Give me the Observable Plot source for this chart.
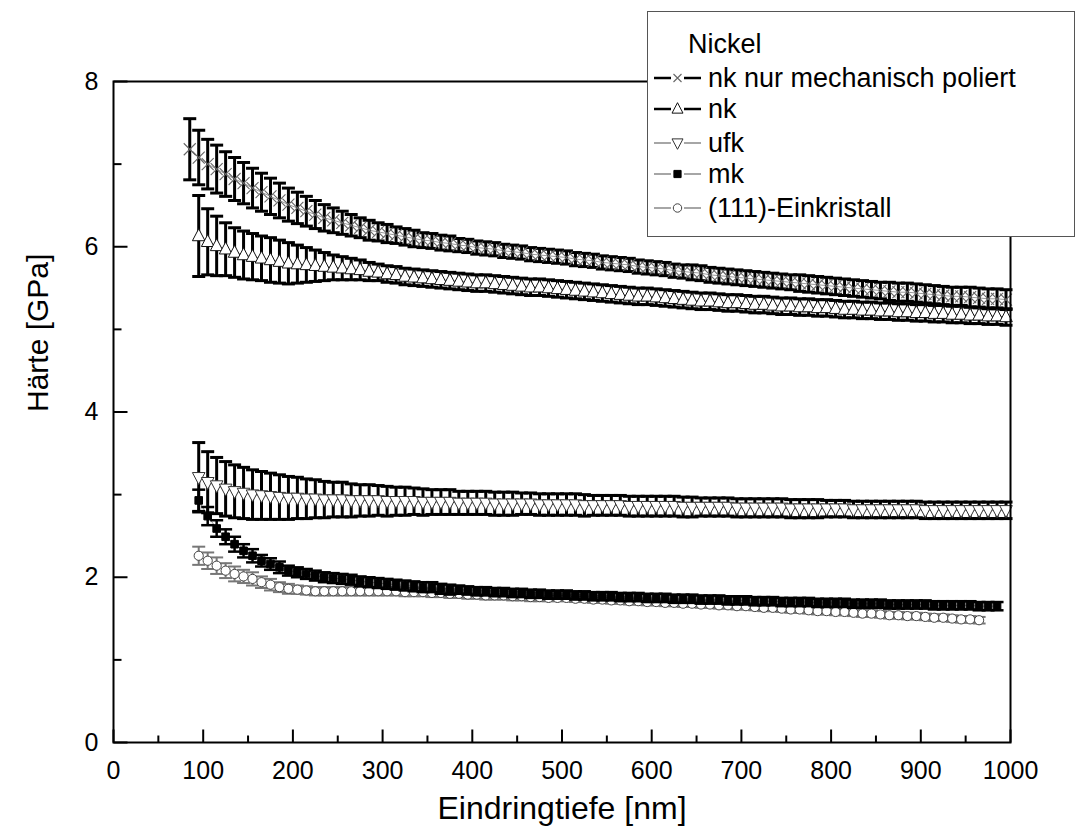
<!DOCTYPE html>
<html>
<head>
<meta charset="utf-8">
<script src="https://cdn.jsdelivr.net/npm/d3@7"></script>
<script src="https://cdn.jsdelivr.net/npm/@observablehq/plot@0.6"></script>
<style>
  html, body { margin: 0; padding: 0; background: #fff; }
  #wrap { position: relative; width: 1075px; height: 836px; overflow: hidden; font-family: "Liberation Sans", Arial, sans-serif; }
  #legend { position: absolute; left: 647px; top: 11px; width: 428px; height: 226px; box-sizing: border-box; border: 1.5px solid #555; background: #fff; }
  #legend svg { position: absolute; left: 0; top: 0; }
</style>
</head>
<body>
<div id="wrap"><div id="chart"></div><div id="legend"></div></div>
<script>
// ---------------- data ----------------
const depth = [
  85,95,105,115,125,135,145,155,165,175,
  185,195,205,215,225,235,245,255,265,275,
  285,295,305,315,325,335,345,355,365,375,
  385,395,405,415,425,435,445,455,465,475,
  485,495,505,515,525,535,545,555,565,575,
  585,595,605,615,625,635,645,655,665,675,
  685,695,705,715,725,735,745,755,765,775,
  785,795,805,815,825,835,845,855,865,875,
  885,895,905,915,925,935,945,955,965,975,
  985,995];

// nk nur mechanisch poliert
const mechHardness = [
  7.18,7.08,7.00,6.94,6.88,6.82,6.77,6.71,6.66,6.61,
  6.56,6.51,6.47,6.43,6.39,6.35,6.32,6.29,6.26,6.23,
  6.20,6.18,6.16,6.14,6.12,6.10,6.08,6.07,6.05,6.04,
  6.02,6.01,5.99,5.98,5.97,5.95,5.94,5.93,5.91,5.90,
  5.89,5.88,5.87,5.85,5.84,5.83,5.81,5.80,5.79,5.78,
  5.76,5.75,5.74,5.73,5.71,5.70,5.69,5.68,5.66,5.65,
  5.64,5.63,5.62,5.61,5.60,5.59,5.58,5.57,5.56,5.55,
  5.54,5.53,5.52,5.51,5.50,5.49,5.48,5.47,5.46,5.45,
  5.45,5.44,5.43,5.42,5.41,5.40,5.40,5.39,5.38,5.37,
  5.37,5.36];
const mechError = [
  0.37,0.33,0.30,0.29,0.27,0.26,0.25,0.24,0.23,0.22,
  0.21,0.20,0.19,0.18,0.17,0.16,0.15,0.14,0.13,0.12,
  0.12,0.11,0.11,0.10,0.10,0.10,0.09,0.09,0.09,0.09,
  0.08,0.08,0.08,0.08,0.08,0.08,0.08,0.08,0.08,0.08,
  0.08,0.08,0.08,0.08,0.08,0.08,0.08,0.08,0.08,0.08,
  0.08,0.08,0.08,0.08,0.08,0.08,0.09,0.09,0.09,0.09,
  0.09,0.09,0.09,0.09,0.09,0.09,0.09,0.09,0.10,0.10,
  0.10,0.10,0.10,0.10,0.10,0.10,0.10,0.10,0.11,0.11,
  0.11,0.11,0.11,0.11,0.11,0.11,0.11,0.12,0.12,0.12,
  0.12,0.12];

// nk
const nkHardness = [
  null,6.13,6.06,6.01,5.97,5.93,5.90,5.88,5.86,5.84,
  5.82,5.80,5.79,5.78,5.77,5.76,5.75,5.74,5.73,5.72,
  5.70,5.69,5.67,5.66,5.64,5.63,5.62,5.61,5.60,5.59,
  5.58,5.57,5.56,5.56,5.55,5.54,5.53,5.52,5.51,5.51,
  5.50,5.49,5.48,5.47,5.46,5.45,5.44,5.43,5.42,5.41,
  5.40,5.40,5.39,5.38,5.37,5.36,5.35,5.34,5.34,5.33,
  5.32,5.32,5.31,5.30,5.30,5.29,5.28,5.28,5.27,5.27,
  5.26,5.26,5.25,5.24,5.24,5.23,5.23,5.22,5.22,5.21,
  5.21,5.20,5.20,5.19,5.19,5.18,5.18,5.17,5.17,5.16,
  5.16,5.15];
const nkError = [
  null,0.49,0.40,0.36,0.32,0.30,0.29,0.28,0.27,0.27,
  0.26,0.25,0.23,0.21,0.19,0.17,0.15,0.14,0.13,0.12,
  0.11,0.10,0.10,0.10,0.10,0.10,0.10,0.10,0.10,0.10,
  0.10,0.10,0.10,0.10,0.10,0.10,0.10,0.10,0.10,0.10,
  0.10,0.10,0.10,0.10,0.10,0.10,0.10,0.10,0.10,0.10,
  0.10,0.10,0.10,0.10,0.10,0.10,0.10,0.10,0.10,0.10,
  0.10,0.10,0.10,0.10,0.10,0.10,0.10,0.10,0.10,0.10,
  0.10,0.10,0.10,0.10,0.10,0.10,0.10,0.10,0.10,0.10,
  0.10,0.10,0.10,0.10,0.10,0.10,0.10,0.10,0.10,0.10,
  0.10,0.10];

// ufk
const ufkHardness = [
  null,3.21,3.15,3.11,3.07,3.04,3.02,3.00,2.99,2.98,
  2.97,2.96,2.96,2.95,2.95,2.94,2.94,2.94,2.93,2.93,
  2.93,2.93,2.92,2.92,2.92,2.92,2.91,2.91,2.91,2.91,
  2.90,2.90,2.90,2.90,2.89,2.89,2.89,2.89,2.89,2.88,
  2.88,2.88,2.88,2.88,2.87,2.87,2.87,2.87,2.87,2.86,
  2.86,2.86,2.86,2.86,2.86,2.85,2.85,2.85,2.85,2.85,
  2.85,2.84,2.84,2.84,2.84,2.84,2.84,2.83,2.83,2.83,
  2.83,2.83,2.83,2.83,2.82,2.82,2.82,2.82,2.82,2.82,
  2.82,2.82,2.81,2.81,2.81,2.81,2.81,2.81,2.81,2.81,
  2.81,2.81];
const ufkError = [
  null,0.42,0.37,0.34,0.33,0.32,0.31,0.30,0.29,0.28,
  0.27,0.26,0.25,0.24,0.23,0.22,0.21,0.21,0.20,0.19,
  0.19,0.18,0.18,0.17,0.17,0.16,0.16,0.15,0.15,0.15,
  0.14,0.14,0.14,0.14,0.14,0.14,0.14,0.13,0.13,0.13,
  0.13,0.13,0.13,0.13,0.13,0.12,0.12,0.12,0.12,0.12,
  0.12,0.12,0.12,0.12,0.12,0.12,0.12,0.11,0.11,0.11,
  0.11,0.11,0.11,0.11,0.11,0.11,0.11,0.11,0.11,0.11,
  0.11,0.10,0.10,0.10,0.10,0.10,0.10,0.10,0.10,0.10,
  0.10,0.10,0.10,0.10,0.10,0.10,0.10,0.10,0.10,0.10,
  0.10,0.10];

// mk
const mkHardness = [
  null,2.93,2.74,2.59,2.49,2.40,2.32,2.26,2.20,2.16,
  2.12,2.08,2.06,2.04,2.02,2.00,1.99,1.98,1.97,1.95,
  1.94,1.93,1.92,1.91,1.90,1.89,1.88,1.88,1.86,1.85,
  1.85,1.84,1.83,1.83,1.82,1.82,1.81,1.81,1.80,1.80,
  1.79,1.79,1.79,1.78,1.78,1.77,1.77,1.77,1.76,1.76,
  1.76,1.75,1.75,1.75,1.74,1.74,1.74,1.73,1.73,1.73,
  1.72,1.72,1.72,1.71,1.71,1.71,1.70,1.70,1.70,1.70,
  1.69,1.69,1.69,1.69,1.68,1.68,1.68,1.68,1.67,1.67,
  1.67,1.67,1.67,1.66,1.66,1.66,1.66,1.66,1.65,1.65,
  1.65,null];
const mkError = [
  null,0.13,0.11,0.10,0.09,0.09,0.08,0.08,0.07,0.07,
  0.07,0.06,0.06,0.06,0.06,0.06,0.06,0.06,0.06,0.06,
  0.06,0.06,0.06,0.06,0.06,0.06,0.06,0.06,0.06,0.06,
  0.05,0.05,0.05,0.05,0.05,0.05,0.05,0.05,0.05,0.05,
  0.05,0.05,0.05,0.05,0.05,0.05,0.05,0.05,0.05,0.05,
  0.05,0.05,0.05,0.05,0.05,0.05,0.05,0.05,0.05,0.05,
  0.05,0.05,0.05,0.05,0.05,0.05,0.05,0.05,0.05,0.05,
  0.05,0.05,0.05,0.05,0.05,0.05,0.05,0.05,0.05,0.05,
  0.05,0.05,0.05,0.05,0.05,0.05,0.05,0.05,0.05,0.05,
  0.05,null];

// (111)-Einkristall
const einHardness = [
  null,2.26,2.20,2.14,2.08,2.04,2.01,1.98,1.94,1.91,
  1.88,1.86,1.85,1.84,1.83,1.83,1.83,1.83,1.83,1.83,
  1.83,1.83,1.83,1.83,1.82,1.82,1.82,1.81,1.81,1.80,
  1.80,1.79,1.79,1.78,1.78,1.78,1.77,1.77,1.76,1.76,
  1.75,1.75,1.75,1.74,1.74,1.73,1.73,1.72,1.72,1.71,
  1.71,1.70,1.70,1.69,1.69,1.68,1.68,1.67,1.67,1.66,
  1.66,1.65,1.65,1.64,1.63,1.63,1.62,1.61,1.61,1.60,
  1.59,1.59,1.58,1.58,1.57,1.56,1.56,1.55,1.54,1.54,
  1.53,1.53,1.52,1.51,1.51,1.50,1.49,1.49,1.48,null,
  null,null];
const einError = [
  null,0.11,0.10,0.10,0.09,0.09,0.08,0.08,0.07,0.07,
  0.06,0.06,0.05,0.05,0.05,0.05,0.05,0.05,0.05,0.05,
  0.05,0.05,0.05,0.05,0.05,0.05,0.05,0.05,0.05,0.05,
  0.05,0.05,0.05,0.05,0.05,0.05,0.05,0.05,0.05,0.05,
  0.04,0.04,0.04,0.04,0.04,0.04,0.04,0.04,0.04,0.04,
  0.04,0.04,0.04,0.04,0.04,0.04,0.04,0.04,0.04,0.04,
  0.04,0.04,0.04,0.04,0.04,0.04,0.04,0.04,0.04,0.04,
  0.04,0.04,0.04,0.04,0.04,0.04,0.04,0.04,0.04,0.04,
  0.04,0.04,0.04,0.04,0.04,0.04,0.04,0.04,0.04,null,
  null,null];

const seriesNames = ["nk nur mechanisch poliert", "nk", "ufk", "mk", "(111)-Einkristall"];
const legendTitle = "Nickel";
const xTicks = [0,100,200,300,400,500,600,700,800,900,1000];
const xMinorTicks = [50,150,250,350,450,550,650,750,850,950];
const yTicks = [0,2,4,6,8];
const yMinorTicks = [1,3,5,7];
const xLabel = "Eindringtiefe [nm]";
const yLabel = "Härte [GPa]";

// ---------------- checks ----------------
[mechHardness, mechError, nkHardness, nkError, ufkHardness, ufkError, mkHardness, mkError, einHardness, einError]
  .forEach((a, i) => { if (a.length !== depth.length) throw new Error("length mismatch in array " + i + ": " + a.length); });

// ---------------- symbols ----------------
const sym = f => ({draw: f});
const capSym = sym(c => { c.moveTo(-6.5, 0); c.lineTo(6.5, 0); });
const tickUp = len => sym(c => { c.moveTo(0, 0); c.lineTo(0, -len); });
const tickRight = len => sym(c => { c.moveTo(0, 0); c.lineTo(len, 0); });
const timesSym = s => sym(c => { c.moveTo(-s, -s); c.lineTo(s, s); c.moveTo(-s, s); c.lineTo(s, -s); });
const triUp = s => sym(c => { c.moveTo(0, -s * 1.15); c.lineTo(s, s * 0.75); c.lineTo(-s, s * 0.75); c.closePath(); });
const triDown = s => sym(c => { c.moveTo(0, s * 1.15); c.lineTo(s, -s * 0.75); c.lineTo(-s, -s * 0.75); c.closePath(); });
const squareSym = s => sym(c => { c.rect(-s, -s, 2 * s, 2 * s); });
const circleSym = s => sym(c => { c.moveTo(s, 0); c.arc(0, 0, s, 0, 2 * Math.PI); });

const styles = [
  {line: "#000", lineW: 2.5, plotLine: "#999", plotLineW: 1, err: "#000", errW: 3, symbol: timesSym(6), fill: "none", stroke: "#666", sw: 1.1, lsym: timesSym(4)},
  {line: "#000", lineW: 2.5, plotLine: "#999", plotLineW: 1, err: "#000", errW: 3, symbol: triUp(6.3), fill: "#fff", stroke: "#111", sw: 1, lsym: triUp(5.5)},
  {line: "#888", lineW: 1.5, plotLine: "#999", plotLineW: 1, err: "#000", errW: 3, symbol: triDown(6.3), fill: "#fff", stroke: "#333", sw: 1, lsym: triDown(5.5)},
  {line: "#888", lineW: 1.5, plotLine: "#999", plotLineW: 1, err: "#000", errW: 2.5, symbol: squareSym(3.8), fill: "#000", stroke: "#000", sw: 1, lsym: squareSym(3.6)},
  {line: "#888", lineW: 1.5, plotLine: "#999", plotLineW: 1, err: "#777", errW: 2, symbol: circleSym(4.6), fill: "#fff", stroke: "#444", sw: 1, lsym: circleSym(4.2)}
];

function rows(vals, errs) {
  return depth.map((d, i) => ({x: d, y: vals[i], e: errs[i]})).filter(r => r.y != null);
}
const series = [
  rows(mechHardness, mechError),
  rows(nkHardness, nkError),
  rows(ufkHardness, ufkError),
  rows(mkHardness, mkError),
  rows(einHardness, einError)
];

function seriesMarks(data, st) {
  return [
    Plot.line(data, {x: "x", y: "y", stroke: st.plotLine, strokeWidth: st.plotLineW}),
    Plot.ruleX(data, {x: "x", y1: r => r.y - r.e, y2: r => r.y + r.e, stroke: st.err, strokeWidth: st.errW}),
    Plot.dot(data, {x: "x", y: r => r.y + r.e, symbol: capSym, fill: "none", stroke: st.err, strokeWidth: st.errW}),
    Plot.dot(data, {x: "x", y: r => r.y - r.e, symbol: capSym, fill: "none", stroke: st.err, strokeWidth: st.errW}),
    Plot.dot(data, {x: "x", y: "y", symbol: st.symbol, fill: st.fill, stroke: st.stroke, strokeWidth: st.sw})
  ];
}

const drawOrder = [0, 1, 2, 4, 3];
const font = "'Liberation Sans', Arial, sans-serif";

const chart = Plot.plot({
  width: 1075,
  height: 836,
  marginLeft: 113,
  marginRight: 65,
  marginTop: 81,
  marginBottom: 94,
  style: {fontFamily: font, background: "#fff", color: "#000", overflow: "visible"},
  x: {domain: [0, 1000]},
  y: {domain: [0, 8]},
  marks: [
    ...drawOrder.flatMap(i => seriesMarks(series[i], styles[i])),
    Plot.frame({stroke: "#000", strokeWidth: 2}),
    Plot.dot(xTicks, {x: d => d, frameAnchor: "bottom", symbol: tickUp(13), fill: "none", stroke: "#000", strokeWidth: 2}),
    Plot.dot(xMinorTicks, {x: d => d, frameAnchor: "bottom", symbol: tickUp(7), fill: "none", stroke: "#000", strokeWidth: 2}),
    Plot.dot(yTicks, {y: d => d, frameAnchor: "left", symbol: tickRight(14), fill: "none", stroke: "#000", strokeWidth: 2}),
    Plot.dot(yMinorTicks, {y: d => d, frameAnchor: "left", symbol: tickRight(8), fill: "none", stroke: "#000", strokeWidth: 2}),
    Plot.axisX({ticks: xTicks, tickSize: 0, tickPadding: 19, fontSize: 25, label: null, tickFormat: d => String(d)}),
    Plot.axisY({ticks: yTicks, tickSize: 0, tickPadding: 15, fontSize: 25, label: null, tickFormat: d => String(d)}),
    Plot.text([xLabel], {text: d => d, frameAnchor: "bottom", dy: 76, fontSize: 32, fill: "#000"}),
    Plot.text([yLabel], {text: d => d, frameAnchor: "left", dx: -75, rotate: -90, fontSize: 30, fill: "#000"})
  ]
});
document.getElementById("chart").appendChild(chart);

// ---------------- legend ----------------
const lw = 428, lh = 226;
const lsvg = d3.select("#legend").append("svg").attr("width", lw).attr("height", lh)
  .style("font-family", font);
lsvg.append("text").attr("x", 40).attr("y", 32).attr("dominant-baseline", "central")
  .attr("font-size", 27).text(legendTitle);
const rowY = [66, 97, 131, 162, 196];
seriesNames.forEach((name, i) => {
  const st = styles[i];
  const g = lsvg.append("g").attr("transform", `translate(0,${rowY[i]})`);
  g.append("line").attr("x1", 6).attr("x2", 23).attr("y1", 0).attr("y2", 0)
    .attr("stroke", st.line).attr("stroke-width", st.lineW);
  g.append("line").attr("x1", 36).attr("x2", 53).attr("y1", 0).attr("y2", 0)
    .attr("stroke", st.line).attr("stroke-width", st.lineW);
  g.append("path").attr("transform", "translate(29.5,0)")
    .attr("d", d3.symbol().type(st.lsym)())
    .attr("fill", st.fill).attr("stroke", st.stroke).attr("stroke-width", st.sw);
  g.append("text").attr("x", 60).attr("y", 0).attr("dominant-baseline", "central")
    .attr("font-size", 27).text(name);
});
</script>
</body>
</html>
